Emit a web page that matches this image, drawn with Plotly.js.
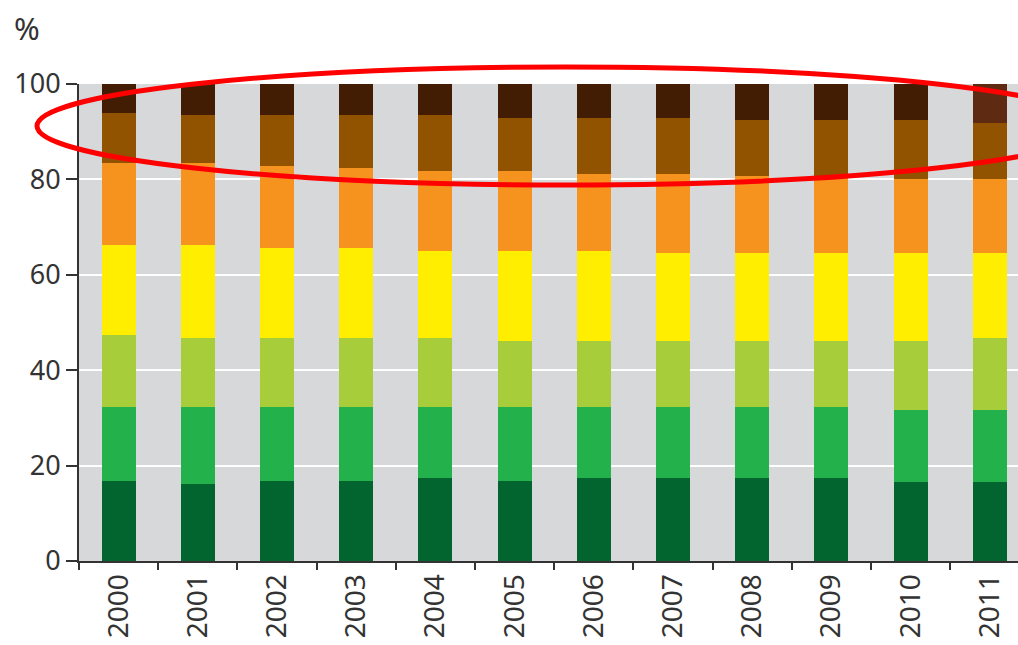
<!DOCTYPE html>
<html>
<head>
<meta charset="utf-8">
<script src="https://cdn.plot.ly/plotly-3.0.1.min.js"></script>
<style>
  html, body { margin: 0; padding: 0; background: #ffffff; }
  #chart { width: 1018px; height: 645px; }
</style>
</head>
<body>
<div id="chart"></div>
<script>
// Years on the category axis
const years = ['2000', '2001', '2002', '2003', '2004', '2005', '2006', '2007', '2008', '2009', '2010', '2011'];

// Share of each class per year, in percent (bottom to top of each bar)
const classDarkGreen  = [16.7, 16.1, 16.7, 16.7, 17.3, 16.7, 17.3, 17.3, 17.3, 17.3, 16.6, 16.6];
const classGreen      = [15.5, 16.1, 15.5, 15.5, 14.9, 15.5, 14.9, 14.9, 14.9, 14.9, 15.1, 15.1];
const classLightGreen = [15.1, 14.6, 14.6, 14.6, 14.6, 14.0, 14.0, 14.0, 14.0, 14.0, 14.5, 15.1];
const classYellow     = [18.9, 19.4, 18.9, 18.9, 18.2, 18.8, 18.8, 18.3, 18.4, 18.4, 18.4, 17.8];
const classOrange     = [17.3, 17.2, 17.1, 16.6, 16.7, 16.7, 16.2, 16.7, 16.1, 15.9, 15.5, 15.5];
const classBrown      = [10.5, 10.0, 10.6, 11.1, 11.8, 11.2, 11.7, 11.7, 11.7, 11.9, 12.3, 11.8];
const classDarkBrown  = [ 6.0,  6.6,  6.6,  6.6,  6.5,  7.1,  7.1,  7.1,  7.6,  7.6,  7.6,  8.1];

const yTicks = [0, 20, 40, 60, 80, 100];

const series = [
  { values: classDarkGreen,  color: '#02652f' },
  { values: classGreen,      color: '#22b14b' },
  { values: classLightGreen, color: '#a8cd3a' },
  { values: classYellow,     color: '#ffee00' },
  { values: classOrange,     color: '#f6931e' },
  { values: classBrown,      color: '#925300' },
  { values: classDarkBrown,  color: years.map(y => y === '2011' ? '#5f2a12' : '#421d03') }
];

const traces = series.map(s => ({
  type: 'bar',
  x: years,
  y: s.values,
  marker: { color: s.color, line: { width: 0 } },
  hoverinfo: 'x+y',
  showlegend: false
}));

// Plot area geometry in pixels
const W = 1018, H = 645;
const m = { l: 79, r: 0, t: 84, b: 84 };
const plotW = W - m.l - m.r, plotH = H - m.t - m.b;
const px = x => (x - m.l) / plotW;
const py = y => (H - m.b - y) / plotH;

const fontFamily = '"Noto Sans", "Open Sans", sans-serif';
const textColor = '#333333';

const layout = {
  width: W,
  height: H,
  margin: m,
  barmode: 'stack',
  bargap: 0.57,
  paper_bgcolor: '#ffffff',
  plot_bgcolor: '#d7d8da',
  font: { family: fontFamily, size: 27, color: textColor },
  xaxis: {
    type: 'category',
    range: [-0.5, 11.356],
    tickson: 'boundaries',
    ticks: 'outside',
    ticklen: 7,
    tickwidth: 2,
    tickcolor: '#333333',
    tickangle: -90,
    showgrid: false,
    showline: true,
    linecolor: '#333333',
    linewidth: 2,
    zeroline: false,
    tickfont: { family: fontFamily, size: 28, color: textColor }
  },
  yaxis: {
    range: [0, 100],
    tickvals: yTicks,
    ticktext: yTicks.map(String),
    ticks: 'outside',
    ticklen: 11,
    tickwidth: 2,
    tickcolor: '#333333',
    showline: true,
    linecolor: '#333333',
    linewidth: 2,
    showgrid: true,
    gridcolor: '#ffffff',
    gridwidth: 2,
    zeroline: false,
    tickfont: { family: fontFamily, size: 27, color: textColor }
  },
  annotations: [
    {
      text: '%',
      xref: 'paper', yref: 'paper',
      x: px(27), y: py(28),
      xanchor: 'center', yanchor: 'middle',
      showarrow: false,
      font: { family: fontFamily, size: 31, color: textColor }
    }
  ],
  shapes: [
    {
      type: 'circle',
      xref: 'paper', yref: 'paper',
      x0: px(37), x1: px(1094),
      y0: py(185), y1: py(67),
      line: { color: '#ff0000', width: 5 },
      fillcolor: 'rgba(0,0,0,0)',
      layer: 'above'
    }
  ]
};

Plotly.newPlot('chart', traces, layout, { displayModeBar: false, staticPlot: true });
</script>
</body>
</html>
